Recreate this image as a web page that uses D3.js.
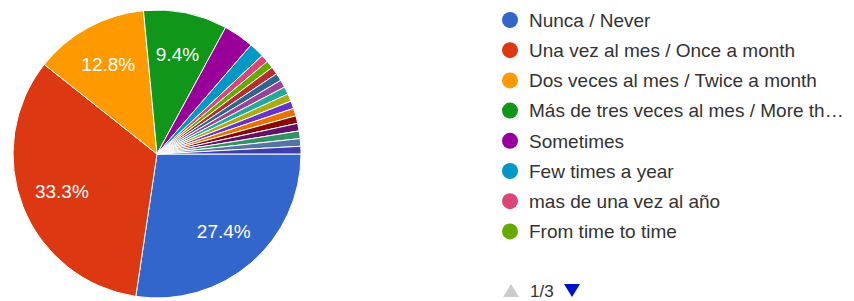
<!DOCTYPE html>
<html>
<head>
<meta charset="utf-8">
<script src="https://cdn.jsdelivr.net/npm/d3@7"></script>
<style>
  body { margin: 0; background: #fff; }
  text { font-family: Arial, "Liberation Sans", sans-serif; }
</style>
</head>
<body>
<div id="chart"></div>
<script>
// answers in legend order (only the first page of the legend is shown)
var categories = [
    "Nunca / Never",
    "Una vez al mes / Once a month",
    "Dos veces al mes / Twice a month",
    "Más de tres veces al mes / More than three times a month",
    "Sometimes",
    "Few times a year",
    "mas de una vez al año",
    "From time to time",
    "Respuesta 9", "Respuesta 10", "Respuesta 11", "Respuesta 12",
    "Respuesta 13", "Respuesta 14", "Respuesta 15", "Respuesta 16",
    "Respuesta 17", "Respuesta 18", "Respuesta 19", "Respuesta 20"
];
var counts = [32, 39, 15, 11, 4, 2, 1, 1, 1, 1, 1, 1, 1, 1, 1, 1, 1, 1, 1, 1];
var colors = ["#3366cc", "#dc3912", "#ff9900", "#109618", "#990099", "#0099c6",
    "#dd4477", "#66aa00", "#b82e2e", "#316395", "#994499", "#22aa99",
    "#aaaa11", "#6633cc", "#e67300", "#8b0707", "#651067", "#329262",
    "#5574a6", "#3b3eac"];
var legendPage = 1, legendPages = 3, perPage = 8;

var width = 854, height = 301;
var cx = 157, cy = 154, radius = 144;

var svg = d3.select("#chart").append("svg")
    .attr("width", width)
    .attr("height", height);

var total = d3.sum(counts);
var data = categories.map(function(c, i){
    return {name: c, value: counts[i], color: colors[i]};
});

// google style pie: starts at 3 o'clock, clockwise
var pie = d3.pie().sort(null).value(function(d){ return d.value; })
    .startAngle(Math.PI / 2).endAngle(Math.PI / 2 + 2 * Math.PI);
var arc = d3.arc().innerRadius(0).outerRadius(radius);
var labelArc = d3.arc().innerRadius(radius * 0.71).outerRadius(radius * 0.71);

var g = svg.append("g").attr("transform", "translate(" + cx + "," + cy + ")");
var arcs = pie(data);

g.selectAll("path").data(arcs).enter().append("path")
    .attr("d", arc)
    .attr("fill", function(d){ return d.data.color; })
    .attr("stroke", "#fff")
    .attr("stroke-width", 1);

g.selectAll("text.slice").data(arcs.filter(function(d){ return d.data.value / total >= 0.05; }))
    .enter().append("text")
    .attr("class", "slice")
    .attr("transform", function(d){ return "translate(" + labelArc.centroid(d) + ")"; })
    .attr("text-anchor", "middle")
    .attr("dy", "0.36em")
    .attr("fill", "#fff")
    .style("font-size", "19px")
    .text(function(d){ return d3.format(".1f")(d.data.value / total * 100) + "%"; });

// legend, first page
var legendX = 510, textX = 529, legendY = 20, rowH = 30.2, maxTextW = 322;
var legend = svg.append("g");
var rows = legend.selectAll("g").data(data.slice(0, perPage)).enter().append("g")
    .attr("transform", function(d, i){ return "translate(0," + (legendY + i * rowH) + ")"; });
rows.append("circle")
    .attr("cx", legendX).attr("cy", 0).attr("r", 8)
    .attr("fill", function(d){ return d.color; });
rows.append("text")
    .attr("x", textX).attr("dy", "0.36em")
    .attr("fill", "#333")
    .style("font-size", "19px")
    .text(function(d){ return d.name; })
    .each(function(d){
        // truncate long labels with an ellipsis like the original
        var t = d3.select(this), s = d.name;
        if (this.getComputedTextLength() <= maxTextW) return;
        while (s.length > 0) {
            s = s.slice(0, -1);
            t.text(s.replace(/\s+$/, "") + "…");
            if (this.getComputedTextLength() <= maxTextW) break;
        }
    });

// pager
var navY = 291;
svg.append("path")
    .attr("d", "M" + 503 + "," + (navY + 6) + "L" + 519 + "," + (navY + 6) + "L" + 511 + "," + (navY - 7) + "Z")
    .attr("fill", "#cccccc");
svg.append("text")
    .attr("x", 530).attr("y", navY).attr("dy", "0.36em")
    .attr("fill", "#333")
    .style("font-size", "17px")
    .text(legendPage + "/" + legendPages);
svg.append("path")
    .attr("d", "M" + 564 + "," + (navY - 7) + "L" + 580 + "," + (navY - 7) + "L" + 572 + "," + (navY + 6) + "Z")
    .attr("fill", "#0011cc");
</script>
</body>
</html>
